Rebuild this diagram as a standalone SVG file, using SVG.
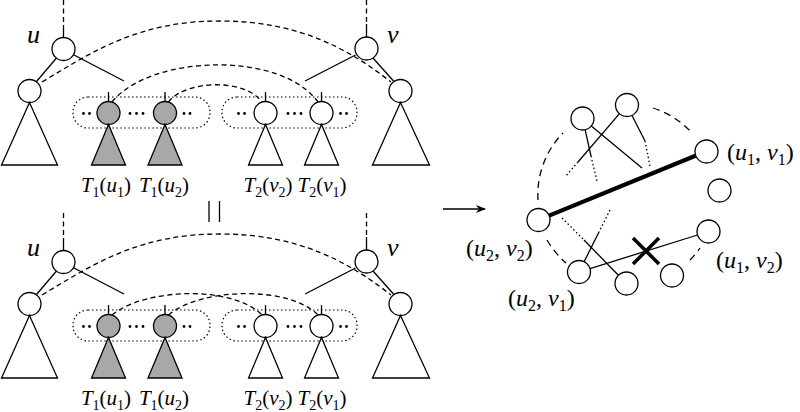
<svg xmlns="http://www.w3.org/2000/svg" width="800" height="412" viewBox="0 0 800 412">
<defs>
<style>
.n{fill:#fff;stroke:#000;stroke-width:1.3}
.g{fill:#a8a8a8;stroke:#000;stroke-width:1.3}
.t{fill:#fff;stroke:#000;stroke-width:1.3;stroke-linejoin:miter}
.tg{fill:#a8a8a8;stroke:#000;stroke-width:1.3}
.l{fill:none;stroke:#000;stroke-width:1.3}
.d{fill:none;stroke:#000;stroke-width:1.3;stroke-dasharray:5 3.5}
.dt{fill:none;stroke:#000;stroke-width:1.3;stroke-dasharray:1.5 2.5}
.box{fill:none;stroke:#000;stroke-width:1.2;stroke-dasharray:1.5 2.5}
.da{fill:none;stroke:#000;stroke-width:1.3;stroke-dasharray:7 5}
.dot{fill:#000}
text{font-family:"Liberation Serif","Times New Roman",serif;fill:#000}
.it{font-style:italic}
</style>
<marker id="ah" viewBox="0 0 10 10" refX="9" refY="5" markerWidth="10" markerHeight="10" markerUnits="userSpaceOnUse" orient="auto">
<path d="M0,1 L10,5 L0,9 L3,5 Z" fill="#000"/>
</marker>
</defs>

<!-- ===== TOP TREE ===== -->
<g id="top-u">
<line class="d" x1="63.5" y1="0" x2="63.5" y2="25"/>
<line class="l" x1="63.5" y1="25" x2="63.5" y2="37.5"/>
<circle class="n" cx="63.5" cy="49" r="11.5"/>
<text x="27" y="43" font-size="26" class="it">u</text>
</g>
<g id="top-uchild">
<circle class="n" cx="29.5" cy="91" r="11.5"/>
<polygon class="t" points="29.5,102.5 1.5,165 57.5,165"/>
</g>
<g id="top-v">
<line class="d" x1="366.5" y1="0" x2="366.5" y2="24"/>
<line class="l" x1="366.5" y1="24" x2="366.5" y2="37"/>
<circle class="n" cx="366.5" cy="48.5" r="11.5"/>
<text x="387" y="43" font-size="26" class="it">v</text>
</g>
<g id="top-vchild">
<circle class="n" cx="400.5" cy="91" r="11.5"/>
<polygon class="t" points="400.5,102.5 372.5,165 429.5,165"/>
</g>
<g id="top-box1">
<rect class="box" x="73" y="97" width="137" height="31" rx="15" ry="15"/>
<circle class="dot" cx="83.5" cy="113.5" r="1.4"/><circle class="dot" cx="89.5" cy="113.5" r="1.4"/>
<circle class="dot" cx="130" cy="113.5" r="1.4"/><circle class="dot" cx="136.5" cy="113.5" r="1.4"/><circle class="dot" cx="143" cy="113.5" r="1.4"/>
<circle class="dot" cx="184" cy="113.5" r="1.4"/><circle class="dot" cx="190" cy="113.5" r="1.4"/>
</g>
<g id="top-box2">
<rect class="box" x="222" y="97" width="135" height="31" rx="15" ry="15"/>
<circle class="dot" cx="238.5" cy="113.5" r="1.4"/><circle class="dot" cx="244.5" cy="113.5" r="1.4"/>
<circle class="dot" cx="288" cy="113.5" r="1.4"/><circle class="dot" cx="294.5" cy="113.5" r="1.4"/><circle class="dot" cx="301" cy="113.5" r="1.4"/>
<circle class="dot" cx="340.5" cy="113.5" r="1.4"/><circle class="dot" cx="346.5" cy="113.5" r="1.4"/>
</g>
<g id="top-u1">
<line class="l" x1="108.5" y1="92" x2="108.5" y2="101.5"/>
<circle class="g" cx="108.5" cy="113" r="11.5"/>
<polygon class="tg" points="108.5,124.5 91.5,165 125.5,165"/>
<text x="106" y="192" font-size="21" text-anchor="middle"><tspan class="it">T</tspan><tspan font-size="14" dy="5">1</tspan><tspan dy="-5">(</tspan><tspan class="it">u</tspan><tspan font-size="14" dy="5">1</tspan><tspan dy="-5">)</tspan></text>
</g>
<g id="top-u2">
<line class="l" x1="165" y1="92" x2="165" y2="101.5"/>
<circle class="g" cx="165" cy="113" r="11.5"/>
<polygon class="tg" points="165,124.5 148,165 182,165"/>
<text x="164" y="192" font-size="21" text-anchor="middle"><tspan class="it">T</tspan><tspan font-size="14" dy="5">1</tspan><tspan dy="-5">(</tspan><tspan class="it">u</tspan><tspan font-size="14" dy="5">2</tspan><tspan dy="-5">)</tspan></text>
</g>
<g id="top-v2">
<line class="l" x1="265.5" y1="92" x2="265.5" y2="101.5"/>
<circle class="n" cx="265.5" cy="113" r="11.5"/>
<polygon class="t" points="265.5,124.5 248.5,165 282.5,165"/>
<text x="268" y="192" font-size="21" text-anchor="middle"><tspan class="it">T</tspan><tspan font-size="14" dy="5">2</tspan><tspan dy="-5">(</tspan><tspan class="it">v</tspan><tspan font-size="14" dy="5">2</tspan><tspan dy="-5">)</tspan></text>
</g>
<g id="top-v1">
<line class="l" x1="321.5" y1="92" x2="321.5" y2="101.5"/>
<circle class="n" cx="321.5" cy="113" r="11.5"/>
<polygon class="t" points="321.5,124.5 304.5,165 338.5,165"/>
<text x="322" y="192" font-size="21" text-anchor="middle"><tspan class="it">T</tspan><tspan font-size="14" dy="5">2</tspan><tspan dy="-5">(</tspan><tspan class="it">v</tspan><tspan font-size="14" dy="5">1</tspan><tspan dy="-5">)</tspan></text>
</g>

<!-- ===== BOTTOM TREE ===== -->
<g id="bot-u">
<line class="d" x1="63.5" y1="213" x2="63.5" y2="238"/>
<line class="l" x1="63.5" y1="238" x2="63.5" y2="250.5"/>
<circle class="n" cx="63.5" cy="262" r="11.5"/>
<text x="27" y="256" font-size="26" class="it">u</text>
</g>
<g id="bot-uchild">
<circle class="n" cx="29.5" cy="304" r="11.5"/>
<polygon class="t" points="29.5,315.5 1.5,378 57.5,378"/>
</g>
<g id="bot-v">
<line class="d" x1="366.5" y1="213" x2="366.5" y2="237"/>
<line class="l" x1="366.5" y1="237" x2="366.5" y2="250"/>
<circle class="n" cx="366.5" cy="261.5" r="11.5"/>
<text x="387" y="256" font-size="26" class="it">v</text>
</g>
<g id="bot-vchild">
<circle class="n" cx="400.5" cy="304" r="11.5"/>
<polygon class="t" points="400.5,315.5 372.5,378 429.5,378"/>
</g>
<g id="bot-box1">
<rect class="box" x="73" y="310" width="137" height="31" rx="15" ry="15"/>
<circle class="dot" cx="83.5" cy="326.5" r="1.4"/><circle class="dot" cx="89.5" cy="326.5" r="1.4"/>
<circle class="dot" cx="130" cy="326.5" r="1.4"/><circle class="dot" cx="136.5" cy="326.5" r="1.4"/><circle class="dot" cx="143" cy="326.5" r="1.4"/>
<circle class="dot" cx="184" cy="326.5" r="1.4"/><circle class="dot" cx="190" cy="326.5" r="1.4"/>
</g>
<g id="bot-box2">
<rect class="box" x="222" y="310" width="135" height="31" rx="15" ry="15"/>
<circle class="dot" cx="238.5" cy="326.5" r="1.4"/><circle class="dot" cx="244.5" cy="326.5" r="1.4"/>
<circle class="dot" cx="288" cy="326.5" r="1.4"/><circle class="dot" cx="294.5" cy="326.5" r="1.4"/><circle class="dot" cx="301" cy="326.5" r="1.4"/>
<circle class="dot" cx="340.5" cy="326.5" r="1.4"/><circle class="dot" cx="346.5" cy="326.5" r="1.4"/>
</g>
<g id="bot-u1">
<line class="l" x1="108.5" y1="305" x2="108.5" y2="314.5"/>
<circle class="g" cx="108.5" cy="326" r="11.5"/>
<polygon class="tg" points="108.5,337.5 91.5,378 125.5,378"/>
<text x="106" y="405" font-size="21" text-anchor="middle"><tspan class="it">T</tspan><tspan font-size="14" dy="5">1</tspan><tspan dy="-5">(</tspan><tspan class="it">u</tspan><tspan font-size="14" dy="5">1</tspan><tspan dy="-5">)</tspan></text>
</g>
<g id="bot-u2">
<line class="l" x1="165" y1="305" x2="165" y2="314.5"/>
<circle class="g" cx="165" cy="326" r="11.5"/>
<polygon class="tg" points="165,337.5 148,378 182,378"/>
<text x="164" y="405" font-size="21" text-anchor="middle"><tspan class="it">T</tspan><tspan font-size="14" dy="5">1</tspan><tspan dy="-5">(</tspan><tspan class="it">u</tspan><tspan font-size="14" dy="5">2</tspan><tspan dy="-5">)</tspan></text>
</g>
<g id="bot-v2">
<line class="l" x1="265.5" y1="305" x2="265.5" y2="314.5"/>
<circle class="n" cx="265.5" cy="326" r="11.5"/>
<polygon class="t" points="265.5,337.5 248.5,378 282.5,378"/>
<text x="268" y="405" font-size="21" text-anchor="middle"><tspan class="it">T</tspan><tspan font-size="14" dy="5">2</tspan><tspan dy="-5">(</tspan><tspan class="it">v</tspan><tspan font-size="14" dy="5">2</tspan><tspan dy="-5">)</tspan></text>
</g>
<g id="bot-v1">
<line class="l" x1="321.5" y1="305" x2="321.5" y2="314.5"/>
<circle class="n" cx="321.5" cy="326" r="11.5"/>
<polygon class="t" points="321.5,337.5 304.5,378 338.5,378"/>
<text x="322" y="405" font-size="21" text-anchor="middle"><tspan class="it">T</tspan><tspan font-size="14" dy="5">2</tspan><tspan dy="-5">(</tspan><tspan class="it">v</tspan><tspan font-size="14" dy="5">1</tspan><tspan dy="-5">)</tspan></text>
</g>

<!-- equality sign (rotated) -->
<g id="equal">
<line class="l" x1="209" y1="201" x2="209" y2="222"/>
<line class="l" x1="219.5" y1="201" x2="219.5" y2="222"/>
</g>

<!-- ===== RIGHT GRAPH NODES ===== -->
<g id="n-u2v2">
<circle class="n" cx="538.5" cy="220" r="11.5"/>
<text x="466" y="256" font-size="24">(<tspan class="it">u</tspan><tspan font-size="16" dy="5">2</tspan><tspan dy="-5">, </tspan><tspan class="it">v</tspan><tspan font-size="16" dy="5">2</tspan><tspan dy="-5">)</tspan></text>
</g>
<g id="n-u1v1">
<circle class="n" cx="706.5" cy="151.5" r="11.5"/>
<text x="727" y="160" font-size="24">(<tspan class="it">u</tspan><tspan font-size="16" dy="5">1</tspan><tspan dy="-5">, </tspan><tspan class="it">v</tspan><tspan font-size="16" dy="5">1</tspan><tspan dy="-5">)</tspan></text>
</g>
<g id="n-mid">
<circle class="n" cx="719.5" cy="190.5" r="11.5"/>
</g>
<g id="n-u1v2">
<circle class="n" cx="708.5" cy="231.5" r="11.5"/>
<text x="716" y="268" font-size="24">(<tspan class="it">u</tspan><tspan font-size="16" dy="5">1</tspan><tspan dy="-5">, </tspan><tspan class="it">v</tspan><tspan font-size="16" dy="5">2</tspan><tspan dy="-5">)</tspan></text>
</g>
<g id="n-u2v1">
<circle class="n" cx="579" cy="272" r="11.5"/>
<text x="508" y="306" font-size="24">(<tspan class="it">u</tspan><tspan font-size="16" dy="5">2</tspan><tspan dy="-5">, </tspan><tspan class="it">v</tspan><tspan font-size="16" dy="5">1</tspan><tspan dy="-5">)</tspan></text>
</g>
<g id="n-a"><circle class="n" cx="582.5" cy="118.5" r="11.5"/></g>
<g id="n-b"><circle class="n" cx="627" cy="105" r="11.5"/></g>
<g id="n-d"><circle class="n" cx="626.5" cy="283.5" r="11.5"/></g>
<g id="n-e"><circle class="n" cx="672" cy="275.5" r="11.5"/></g>

<!-- ===== CONNECTORS ===== -->
<g id="connectors">
<!-- top tree -->
<line class="l" x1="56.5" y1="58" x2="36.5" y2="81.5"/>
<line class="l" x1="74" y1="55" x2="124" y2="81"/>
<line class="l" x1="373" y1="58" x2="393.5" y2="81"/>
<line class="l" x1="355.5" y1="55" x2="305" y2="81"/>
<path class="d" d="M42,82 C95,50 140,21 220,21 C300,21 350,50 391,82"/>
<path class="d" d="M112,102 C150,55 280,50 318,102"/>
<path class="d" d="M168.5,102 C185,80 245,78 262,102"/>
<!-- bottom tree -->
<line class="l" x1="56.5" y1="271" x2="36.5" y2="294.5"/>
<line class="l" x1="74" y1="268" x2="124" y2="294"/>
<line class="l" x1="373" y1="271" x2="393.5" y2="294"/>
<line class="l" x1="355.5" y1="268" x2="305" y2="294"/>
<path class="d" d="M42,295 C95,263 140,234 220,234 C300,234 350,263 391,295"/>
<path class="d" d="M112,315 C145,288 232,285 262,315"/>
<path class="d" d="M168.5,315 C200,288 288,285 318,315"/>
<!-- arrow -->
<line class="l" x1="443" y1="209" x2="485" y2="209" marker-end="url(#ah)"/>
<!-- right graph -->
<line x1="549.1" y1="215.6" x2="695.4" y2="155.8" stroke="#000" stroke-width="4.2"/>
<line class="l" x1="590" y1="268.6" x2="697.5" y2="235"/>
<line class="dt" x1="562" y1="218" x2="584" y2="240"/>
<line class="l" x1="584" y1="240" x2="618.4" y2="275.3"/>
<line class="dt" x1="610" y1="210" x2="599" y2="232"/>
<line class="l" x1="599" y1="232" x2="584.1" y2="261.7"/>
<line class="l" x1="585.1" y1="129.7" x2="591" y2="156"/>
<line class="dt" x1="591" y1="156" x2="597" y2="181"/>
<line class="l" x1="591.3" y1="125.9" x2="642" y2="168"/>
<line class="l" x1="619.5" y1="113.7" x2="578" y2="162"/>
<line class="dt" x1="578" y1="162" x2="565" y2="177"/>
<line class="l" x1="632" y1="115.5" x2="645" y2="141"/>
<line class="dt" x1="645" y1="141" x2="650" y2="166"/>
<path class="da" d="M538,200 A88,88 0 0 1 563,133"/>
<path class="da" d="M653,108 A90,90 0 0 1 692,133"/>
<path class="da" d="M547,240 A92,92 0 0 0 566,263"/>
<path class="da" d="M690,260 A95,95 0 0 0 700,248"/>
<!-- cross mark -->
<line x1="633" y1="238" x2="659" y2="264" stroke="#000" stroke-width="3.5"/>
<line x1="633" y1="264" x2="659" y2="238" stroke="#000" stroke-width="3.5"/>
</g>
</svg>
